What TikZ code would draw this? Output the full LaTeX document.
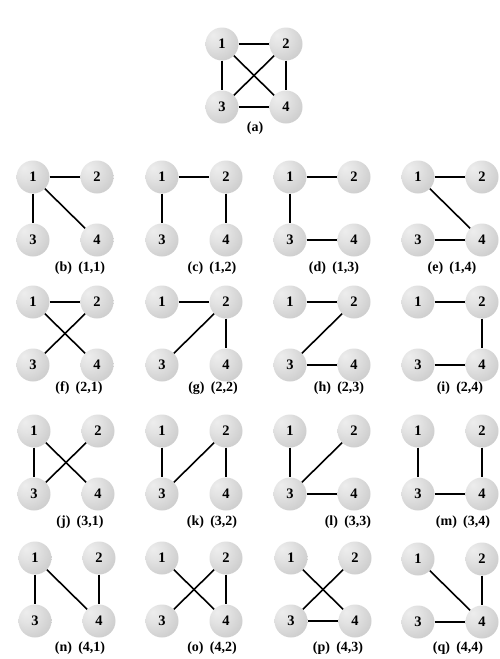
\documentclass[tikz,border=0pt]{standalone}
\usepackage{fontspec}
\setmainfont{Liberation Serif}
\pgfdeclareradialshading{sphere}{\pgfpoint{-14bp}{14bp}}{%
  color(0bp)=(white!93!black);
  color(14bp)=(white!89!black);
  color(34bp)=(white!81!black);
  color(52bp)=(white!72!black);
  color(75bp)=(white!66!black)}
\tikzset{
  vtx/.style={circle, minimum size=33pt, inner sep=0pt, shading=sphere,
    font=\bfseries\fontsize{14.5}{14.5}\selectfont},
  edge/.style={line width=1.6pt, black},
  caption/.style={font=\bfseries\fontsize{14}{14}\selectfont, inner sep=0pt}
}
% #1 id, #2 x of node 1, #3 y of node 1, #4 caption, #5 caption x, #6 caption y, #7 edges
\newcommand{\treegraph}[7]{%
  \node[vtx] (#11) at (#2,#3) {1};
  \node[vtx] (#12) at ({#2+64},#3) {2};
  \node[vtx] (#13) at (#2,{#3+63}) {3};
  \node[vtx] (#14) at ({#2+64},{#3+63}) {4};
  \foreach \ea/\eb in {#7} {\draw[edge] (#1\ea) -- (#1\eb);}
  \node[caption] (#1cap) at (#5,#6) {#4};
}
\begin{document}
\begin{tikzpicture}[x=1pt,y=-1pt]
\fill[white] (0,0) rectangle (500,659);
\useasboundingbox (0,0) rectangle (500,659);
% (a)
\treegraph{a}{222}{44}{(a)}{255}{128}{1/2,1/3,2/4,3/4,1/4,2/3}
% row 1
\treegraph{b}{33}{177}{(b)\hspace{0.45em}(1,1)}{80}{268}{1/2,1/3,1/4}
\treegraph{c}{162}{177}{(c)\hspace{0.45em}(1,2)}{212}{268}{1/2,1/3,2/4}
\treegraph{d}{290}{177}{(d)\hspace{0.45em}(1,3)}{334}{268}{1/2,1/3,3/4}
\treegraph{e}{418}{177}{(e)\hspace{0.45em}(1,4)}{452}{268}{1/2,1/4,3/4}
% row 2
\treegraph{f}{33}{302}{(f)\hspace{0.45em}(2,1)}{79}{388}{1/2,1/4,2/3}
\treegraph{g}{162}{302}{(g)\hspace{0.45em}(2,2)}{213}{388}{1/2,2/3,2/4}
\treegraph{h}{290}{302}{(h)\hspace{0.45em}(2,3)}{339}{388}{1/2,2/3,3/4}
\treegraph{i}{418}{302}{(i)\hspace{0.45em}(2,4)}{460}{388}{1/2,2/4,3/4}
% row 3
\treegraph{j}{34}{431}{(j)\hspace{0.45em}(3,1)}{80}{522}{1/3,1/4,2/3}
\treegraph{k}{162}{431}{(k)\hspace{0.45em}(3,2)}{212}{522}{1/3,2/3,2/4}
\treegraph{l}{290}{431}{(l)\hspace{0.45em}(3,3)}{348}{522}{1/3,2/3,3/4}
\treegraph{m}{418}{431}{(m)\hspace{0.45em}(3,4)}{463}{522}{1/3,2/4,3/4}
% row 4
\treegraph{n}{35}{558}{(n)\hspace{0.45em}(4,1)}{80}{648}{1/3,1/4,2/4}
\treegraph{o}{162}{558}{(o)\hspace{0.45em}(4,2)}{212}{648}{1/4,2/3,2/4}
\treegraph{p}{291}{558}{(p)\hspace{0.45em}(4,3)}{338}{648}{1/4,2/3,3/4}
\treegraph{q}{418}{559}{(q)\hspace{0.45em}(4,4)}{458}{648}{1/4,2/4,3/4}
\end{tikzpicture}
\end{document}
